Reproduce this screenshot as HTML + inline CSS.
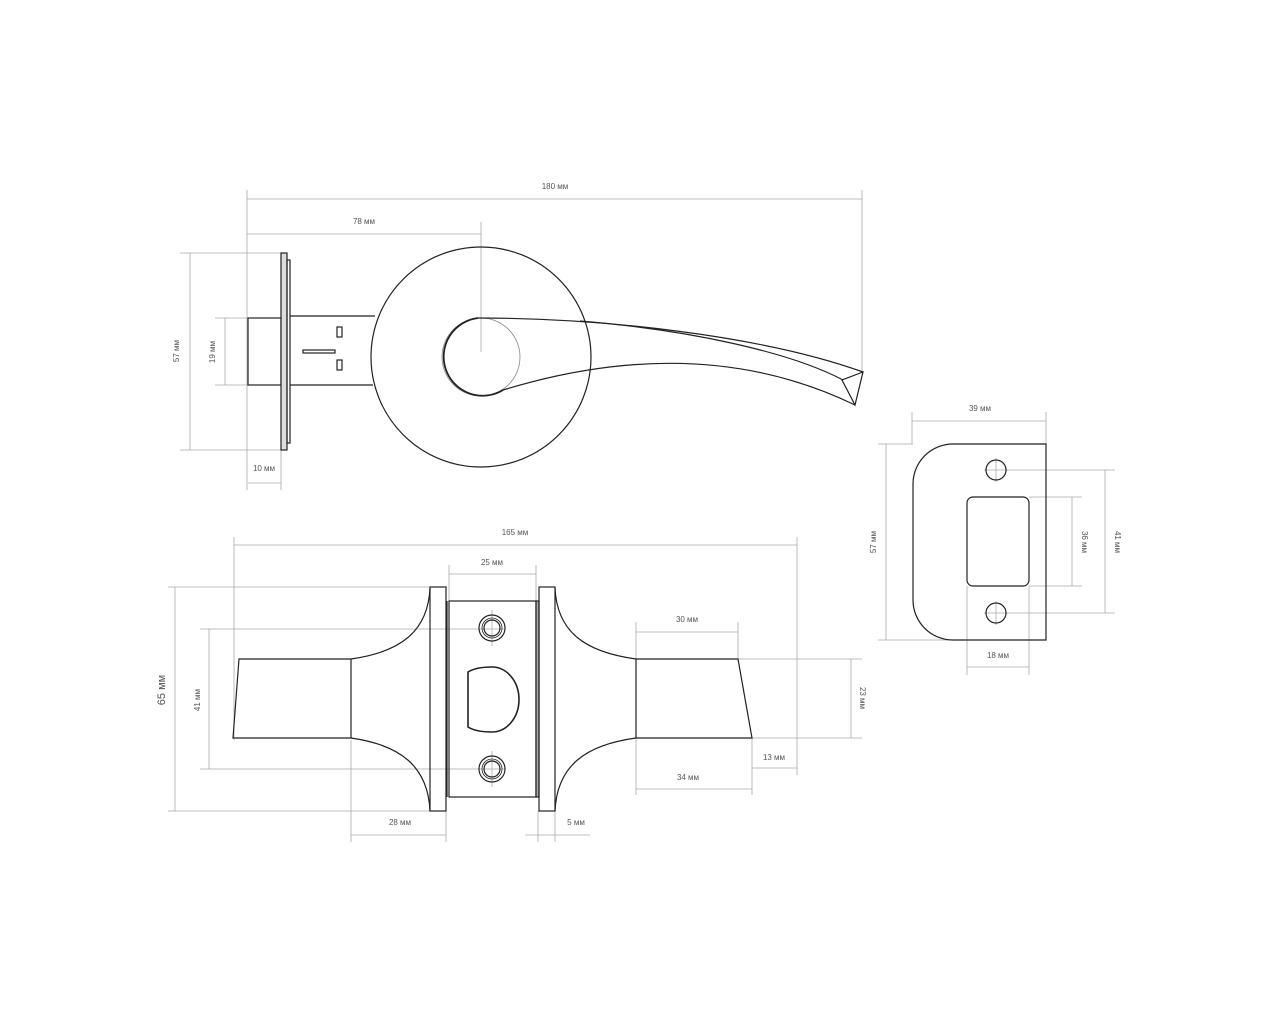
<!DOCTYPE html>
<html><head><meta charset="utf-8"><style>
html,body{margin:0;padding:0;background:#fff}
svg{display:block}
text{font-family:"Liberation Sans",sans-serif;font-size:8px;fill:#555}
</style></head><body>
<svg width="1280" height="1024" viewBox="0 0 1280 1024" xmlns="http://www.w3.org/2000/svg">
<rect width="1280" height="1024" fill="#fff"/>
<g stroke="#aaa" stroke-width="0.8" fill="none">
 <line x1="247" y1="190" x2="247" y2="490"/>
 <line x1="247" y1="199" x2="862" y2="199"/>
 <line x1="862" y1="190" x2="862" y2="372"/>
 <line x1="247" y1="234" x2="481" y2="234"/>
 <line x1="481" y1="222" x2="481" y2="352"/>
 <line x1="180" y1="253" x2="281" y2="253"/>
 <line x1="180" y1="450" x2="281" y2="450"/>
 <line x1="190" y1="253" x2="190" y2="450"/>
 <line x1="215" y1="318" x2="248" y2="318"/>
 <line x1="215" y1="385" x2="248" y2="385"/>
 <line x1="225" y1="318" x2="225" y2="385"/>
 <line x1="281" y1="450" x2="281" y2="490"/>
 <line x1="248" y1="483" x2="281" y2="483"/>
 <line x1="234" y1="537" x2="234" y2="740"/>
 <line x1="797" y1="537" x2="797" y2="775"/>
 <line x1="234" y1="545" x2="797" y2="545"/>
 <line x1="449" y1="565" x2="449" y2="601"/>
 <line x1="536" y1="565" x2="536" y2="601"/>
 <line x1="449" y1="574" x2="536" y2="574"/>
 <line x1="168" y1="587" x2="430" y2="587"/>
 <line x1="168" y1="811" x2="430" y2="811"/>
 <line x1="175" y1="587" x2="175" y2="811"/>
 <line x1="200" y1="629" x2="505" y2="629"/>
 <line x1="200" y1="769" x2="505" y2="769"/>
 <line x1="209" y1="629" x2="209" y2="769"/>
 <line x1="351" y1="740" x2="351" y2="842"/>
 <line x1="446" y1="811" x2="446" y2="842"/>
 <line x1="351" y1="835" x2="446" y2="835"/>
 <line x1="538" y1="811" x2="538" y2="842"/>
 <line x1="555" y1="811" x2="555" y2="842"/>
 <line x1="525" y1="835" x2="590" y2="835"/>
 <line x1="636" y1="622" x2="636" y2="795"/>
 <line x1="738" y1="622" x2="738" y2="659"/>
 <line x1="636" y1="632" x2="738" y2="632"/>
 <line x1="752" y1="738" x2="752" y2="795"/>
 <line x1="636" y1="789" x2="752" y2="789"/>
 <line x1="752" y1="768" x2="797" y2="768"/>
 <line x1="738" y1="659" x2="862" y2="659"/>
 <line x1="752" y1="738" x2="862" y2="738"/>
 <line x1="851" y1="659" x2="851" y2="738"/>
 <line x1="912" y1="412" x2="912" y2="444"/>
 <line x1="1046" y1="412" x2="1046" y2="444"/>
 <line x1="912" y1="421" x2="1046" y2="421"/>
 <line x1="878" y1="444" x2="913" y2="444"/>
 <line x1="878" y1="640" x2="960" y2="640"/>
 <line x1="886" y1="444" x2="886" y2="640"/>
 <line x1="1005" y1="470" x2="1115" y2="470"/>
 <line x1="1005" y1="613" x2="1115" y2="613"/>
 <line x1="1105" y1="470" x2="1105" y2="613"/>
 <line x1="1029" y1="497" x2="1082" y2="497"/>
 <line x1="1029" y1="586" x2="1082" y2="586"/>
 <line x1="1072" y1="497" x2="1072" y2="586"/>
 <line x1="967" y1="586" x2="967" y2="675"/>
 <line x1="1029" y1="586" x2="1029" y2="675"/>
 <line x1="967" y1="667" x2="1029" y2="667"/>
 <line x1="996" y1="458" x2="996" y2="482"/>
 <line x1="984" y1="470" x2="1008" y2="470"/>
 <line x1="996" y1="601" x2="996" y2="625"/>
 <line x1="984" y1="613" x2="1008" y2="613"/>
 <line x1="492" y1="610" x2="492" y2="646"/>
 <line x1="492" y1="751" x2="492" y2="787"/>
 <circle cx="481" cy="357" r="39" stroke="#888"/>
</g>
<g stroke="#222" stroke-width="1.2" fill="none">
 <rect x="248" y="318" width="33" height="67"/>
 <rect x="281" y="253" width="6" height="197" fill="#ddd"/>
 <rect x="287" y="260" width="3" height="183"/>
 <path d="M290 316 L375 316 M290 385 L373 385"/>
 <rect x="337" y="327" width="5" height="10"/>
 <rect x="337" y="360" width="5" height="10"/>
 <rect x="303" y="350" width="32" height="3"/>
 <circle cx="481" cy="357" r="110"/>
 <path d="M478 318 A39 39 0 1 0 503 390" stroke-width="1.8"/>
 <path d="M478 318 C600 318 760 335 863 372"/>
 <path d="M580 321 C690 330 790 352 843 380"/>
 <path d="M503 390 Q700 330 855 405"/>
 <path d="M863 372 L842 380 L855 405 Z"/>
 <path d="M239 659 L351 659 L351 738 L233 738 Z"/>
 <path d="M351 659 C400 652 428 632 430 588 M351 738 C400 745 428 766 430 811"/>
 <rect x="430" y="587" width="16" height="224"/>
 <line x1="447" y1="601" x2="447" y2="797"/>
 <rect x="449" y="601" width="87" height="196"/>
 <rect x="536" y="601" width="3" height="196" fill="#aaa"/>
 <rect x="539" y="587" width="16" height="224"/>
 <path d="M555 588 C557 632 585 652 636 659 M555 811 C557 766 585 745 636 738"/>
 <path d="M636 659 L738 659 L752 738 L636 738 Z"/>
 <circle cx="492" cy="628" r="13"/><circle cx="492" cy="628" r="10" stroke-width="0.8"/><circle cx="492" cy="628" r="8"/>
 <circle cx="492" cy="769" r="13"/><circle cx="492" cy="769" r="10" stroke-width="0.8"/><circle cx="492" cy="769" r="8"/>
 <path d="M468 672 Q476 667 492 667 A27 32.5 0 0 1 492 732 Q476 732 468 727 Z" stroke-width="1.6"/>
 <path d="M953 444 L1046 444 L1046 640 L953 640 A40 40 0 0 1 913 600 L913 484 A40 40 0 0 1 953 444 Z"/>
 <circle cx="996" cy="470" r="10"/>
 <circle cx="996" cy="613" r="10"/>
 <rect x="967" y="497" width="62" height="89" rx="6"/>
</g>
<text x="555" y="189" text-anchor="middle">180 мм</text>
<text x="364" y="224" text-anchor="middle">78 мм</text>
<text x="264" y="471" text-anchor="middle">10 мм</text>
<text transform="translate(179,351) rotate(-90)" text-anchor="middle">57 мм</text>
<text transform="translate(215,352) rotate(-90)" text-anchor="middle">19 мм</text>
<text x="515" y="535" text-anchor="middle">165 мм</text>
<text x="492" y="565" text-anchor="middle">25 мм</text>
<text transform="translate(165,690) rotate(-90)" text-anchor="middle" style="font-size:11px">65 мм</text>
<text transform="translate(200,700) rotate(-90)" text-anchor="middle">41 мм</text>
<text x="400" y="825" text-anchor="middle">28 мм</text>
<text x="576" y="825" text-anchor="middle">5 мм</text>
<text x="687" y="622" text-anchor="middle">30 мм</text>
<text x="688" y="780" text-anchor="middle">34 мм</text>
<text x="774" y="760" text-anchor="middle">13 мм</text>
<text transform="translate(860,698) rotate(90)" text-anchor="middle">23 мм</text>
<text x="980" y="411" text-anchor="middle">39 мм</text>
<text transform="translate(876,542) rotate(-90)" text-anchor="middle">57 мм</text>
<text transform="translate(1082,542) rotate(90)" text-anchor="middle">36 мм</text>
<text transform="translate(1115,542) rotate(90)" text-anchor="middle">41 мм</text>
<text x="998" y="658" text-anchor="middle">18 мм</text>
</svg>
</body></html>
